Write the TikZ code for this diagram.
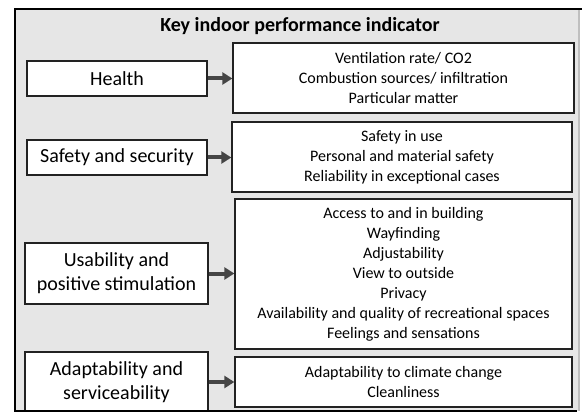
\documentclass[tikz,border=0pt]{standalone}
\usepackage{fontspec}
\setmainfont{Carlito}
\usetikzlibrary{arrows.meta}
\definecolor{panel}{HTML}{E6E6E6}
\definecolor{boxline}{HTML}{222222}
\definecolor{arrowc}{HTML}{454545}
\tikzset{
  leftbox/.style={draw=boxline, line width=1.3pt, fill=white, inner sep=0pt, align=center,
    font=\fontsize{20}{24}\selectfont},
  rightbox/.style={draw=boxline, line width=1.3pt, fill=white, inner sep=0pt, align=center,
    font=\fontsize{16}{20}\selectfont},
  conn/.style={draw=arrowc, line width=4pt, -{Triangle[length=10pt,width=12pt]}},
}
\begin{document}
\begin{tikzpicture}[x=1pt,y=-1pt]
\useasboundingbox (0,0) rectangle (582,412);
\fill[white] (0,0) rectangle (582,412);
\fill[panel] (15,9) rectangle (579,411);
\draw[black!25, line width=1.5pt] (579,9) -- (579,411);
\draw[black, line width=2.5pt] (582,9) -- (15,9) -- (15,411) -- (577,411);
\node[font=\fontsize{20}{24}\selectfont\bfseries] (title) at (300,26) {Key indoor performance indicator};
% left boxes
\node[leftbox, minimum width=180, minimum height=35] (hl) at (117,78.5) {Health};
\node[leftbox, minimum width=180, minimum height=35] (sl) at (117,157.5) {Safety and security};
\node[leftbox, minimum width=183, minimum height=61] (ul) at (116.5,273.5) {Usability and\\positive stimulation};
\node[leftbox, minimum width=183, minimum height=60] (al) at (116.5,382) {Adaptability and\\serviceability};
% right boxes
\node[rightbox, minimum width=341, minimum height=70] (hr) at (403.5,78) {Ventilation rate/ CO2\\Combustion sources/ infiltration\\Particular matter};
\node[rightbox, minimum width=340, minimum height=70] (sr) at (402,157) {Safety in use\\Personal and material safety\\Reliability in exceptional cases};
\node[rightbox, minimum width=337, minimum height=150] (ur) at (403.5,274) {Access to and in building\\Wayfinding\\Adjustability\\View to outside\\Privacy\\Availability and quality of recreational spaces\\Feelings and sensations};
\node[rightbox, minimum width=337, minimum height=50] (ar) at (403.5,382) {Adaptability to climate change\\Cleanliness};
% connectors
\draw[conn] (hl.east) -- (hl.east -| hr.west);
\draw[conn] (sl.east) -- (sl.east -| sr.west);
\draw[conn] (ul.east) -- (ul.east -| ur.west);
\draw[conn] (al.east) -- (al.east -| ar.west);
\draw[black, line width=2.5pt] (15,411) -- (577,411);
\end{tikzpicture}
\end{document}
